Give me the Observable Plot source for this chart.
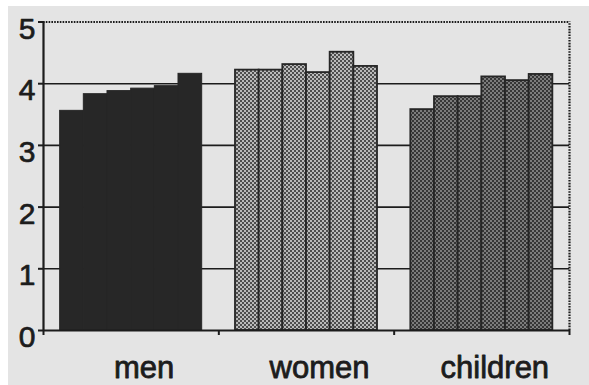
<!DOCTYPE html>
<html>
<head>
<meta charset="utf-8">
<script src="https://cdn.jsdelivr.net/npm/d3@7"></script>
<script src="https://cdn.jsdelivr.net/npm/@observablehq/plot@0.6"></script>
<style>
  html, body { margin: 0; padding: 0; background: #ffffff; }
  #wrap { position: relative; width: 589px; height: 385px; overflow: hidden; }
  #paper { position: absolute; left: 8px; top: 6px; right: 0; bottom: 0; background: #e4e4e4; }
  #chart { position: absolute; left: 0; top: 0; }
  #chart svg { display: block; }
</style>
</head>
<body>
<div id="wrap"><div id="paper"></div><div id="chart"></div></div>
<script>
// ---- data ----
const groups = ["men", "women", "children"];
const menValues = [3.56, 3.83, 3.88, 3.92, 3.96, 4.16];
const womenValues = [4.22, 4.22, 4.31, 4.18, 4.51, 4.28];
const childrenValues = [3.58, 3.79, 3.79, 4.11, 4.05, 4.15];
const yTicks = [0, 1, 2, 3, 4, 5];

const seriesByGroup = [menValues, womenValues, childrenValues];
const rows = groups.flatMap((g, gi) =>
  seriesByGroup[gi].map((v, i) => ({group: g, gi, i, value: v}))
);

// layout within each group unit on the x scale
const OFFSET = 0.095, BW = 0.135;
const x1 = d => d.gi + OFFSET + d.i * BW;
const x2 = d => d.gi + OFFSET + (d.i + 1) * BW;

const ink = "#1c1c1c";

const chart = Plot.plot({
  width: 589,
  height: 385,
  marginLeft: 43,
  marginRight: 20,
  marginTop: 21.5,
  marginBottom: 55,
  x: {domain: [0, 3], ticks: [0, 1, 2, 3], tickSize: 5, tickFormat: () => "", label: null},
  y: {domain: [0, 5], ticks: yTicks, tickSize: 5, tickFormat: () => "", label: null},
  style: {background: "transparent", color: ink, fontFamily: "'Liberation Sans', Arial, sans-serif"},
  marks: [
    Plot.ruleY(yTicks.filter(t => t > 0 && t < 5), {stroke: ink, strokeWidth: 1.6}),
    Plot.ruleY([5], {stroke: ink, strokeWidth: 2.2, strokeDasharray: "1.6,1.2"}),
    Plot.ruleX([3], {y1: 0, y2: 5, stroke: ink, strokeWidth: 2.2, strokeDasharray: "1.6,1.2"}),
    Plot.rect(rows.filter(d => d.group === "men"), {x1, x2, y1: 0, y2: "value", fill: "#272727", stroke: "#272727", strokeWidth: 1}),
    Plot.rect(rows.filter(d => d.group === "women"), {x1, x2, y1: 0, y2: "value", fill: "#8a8a8a", stroke: "#262626", strokeWidth: 1.8}),
    Plot.rect(rows.filter(d => d.group === "children"), {x1, x2, y1: 0, y2: "value", fill: "#5a5a5a", stroke: "#262626", strokeWidth: 1.8}),
    Plot.ruleX([0], {y1: 0, y2: 5, stroke: ink, strokeWidth: 2.2}),
    Plot.ruleY([0], {stroke: ink, strokeWidth: 2.2}),
    Plot.text(yTicks, {y: d => d, text: d => String(d), frameAnchor: "left", textAnchor: "end",
      dx: -8, dy: 7, fontSize: 30, fill: ink, stroke: ink, strokeWidth: 0.7}),
    Plot.text(groups, {x: (d, i) => i + 0.5, y: () => 0, text: d => d, dx: 13, dy: 37.5,
      fontSize: 31, fill: ink, stroke: ink, strokeWidth: 0.8})
  ]
});

// halftone patterns for the shaded bars
const svg = d3.select(chart);
const defs = svg.insert("defs", ":first-child");
function checker(id, dark, light) {
  const p = defs.append("pattern").attr("id", id).attr("patternUnits", "userSpaceOnUse")
    .attr("width", 4).attr("height", 4);
  p.append("rect").attr("width", 4).attr("height", 4).attr("fill", light);
  p.append("rect").attr("width", 2).attr("height", 2).attr("fill", dark);
  p.append("rect").attr("x", 2).attr("y", 2).attr("width", 2).attr("height", 2).attr("fill", dark);
}
checker("pw", "#4e4e4e", "#bababa");
checker("pc", "#363636", "#7c7c7c");
const rectGroups = svg.selectAll('g[aria-label="rect"]').nodes();
if (rectGroups.length === 3) {
  rectGroups[1].setAttribute("fill", "url(#pw)");
  rectGroups[2].setAttribute("fill", "url(#pc)");
}
svg.selectAll('[aria-label*="axis"] line, [aria-label*="axis"] path').attr("stroke-width", 2);

document.getElementById("chart").appendChild(chart);
</script>
</body>
</html>
